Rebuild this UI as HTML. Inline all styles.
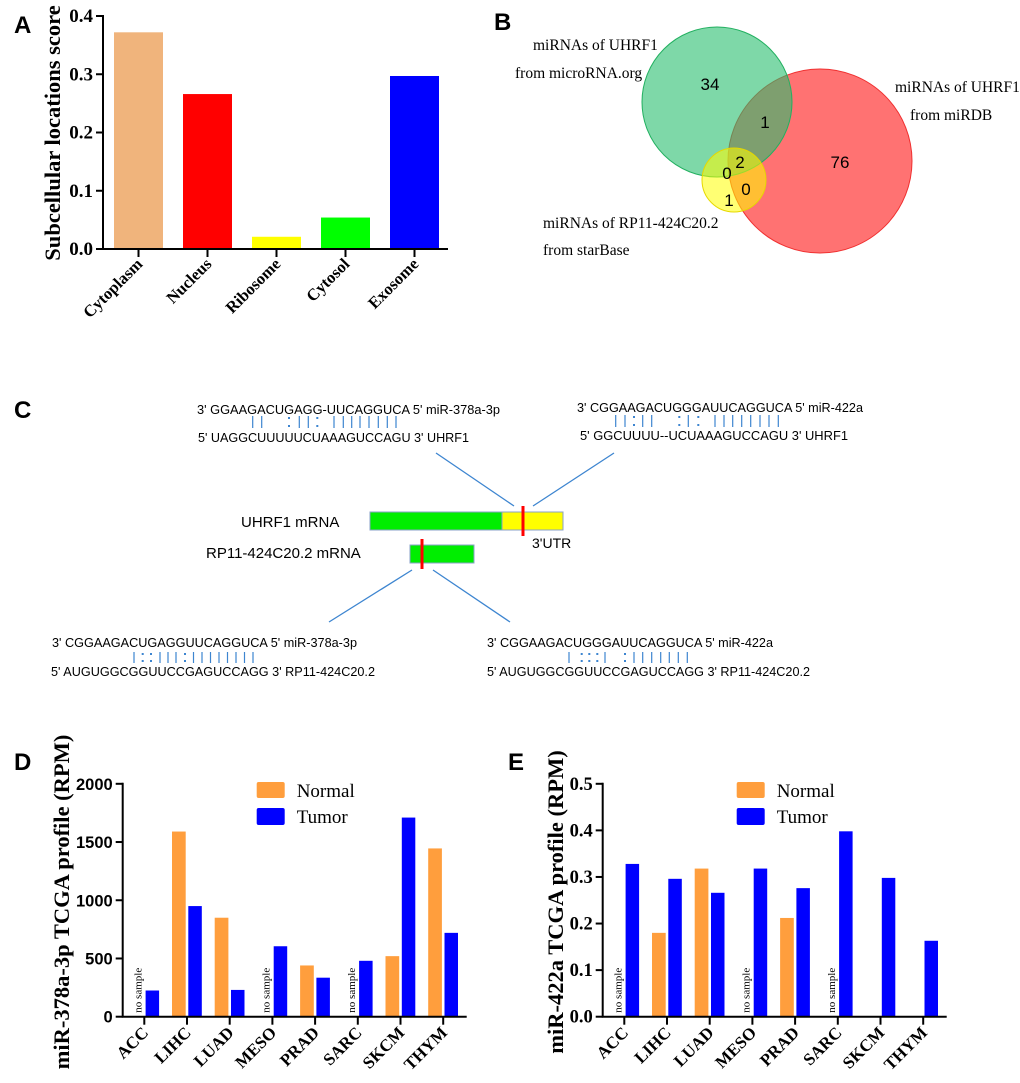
<!DOCTYPE html>
<html><head><meta charset="utf-8"><style>
html,body{margin:0;padding:0;background:#fff;}
svg{display:block;}
.lt{font-family:"Liberation Sans",sans-serif;font-weight:bold;font-size:24px;}
.seq{font-family:"Liberation Sans",sans-serif;font-size:12.5px;fill:#000;}
.ser{font-family:"Liberation Serif",serif;}
</style></head><body>
<svg id="fig" width="1020" height="1083" viewBox="0 0 1020 1083" xmlns="http://www.w3.org/2000/svg">
<text class="lt" x="14" y="33">A</text>
<text class="lt" x="494" y="30">B</text>
<text class="lt" x="14" y="418">C</text>
<text class="lt" x="14" y="770">D</text>
<text class="lt" x="508" y="770">E</text>

<!-- Panel B venn -->
<g>
<circle cx="820" cy="161" r="92" fill="rgba(255,60,60,0.72)" stroke="#f03030" stroke-width="1"/>
<circle cx="717" cy="102" r="75" fill="rgba(40,190,110,0.6)" stroke="#22b060" stroke-width="1"/>
<circle cx="734" cy="180" r="32" fill="rgba(255,255,0,0.55)" stroke="#e6d800" stroke-width="1"/>
<g font-family="'Liberation Sans',sans-serif" font-size="17" fill="#000" text-anchor="middle">
<text x="710" y="90">34</text>
<text x="765" y="128">1</text>
<text x="840" y="168">76</text>
<text x="740" y="168">2</text>
<text x="727" y="179">0</text>
<text x="746" y="195">0</text>
<text x="729" y="206">1</text>
</g>
<g class="ser" font-size="15.5" fill="#000">
<text x="533" y="50">miRNAs of UHRF1</text>
<text x="515" y="78">from microRNA.org</text>
<text x="895" y="92">miRNAs of UHRF1</text>
<text x="910" y="120">from miRDB</text>
<text x="543" y="228">miRNAs of RP11-424C20.2</text>
<text x="543" y="255">from starBase</text>
</g>
</g>

<!-- Panel C -->
<g>
<text class="seq" x="197" y="414" textLength="303" lengthAdjust="spacingAndGlyphs">3' GGAAGACUGAGG-UUCAGGUCA 5' miR-378a-3p</text>
<text class="seq" x="198" y="442" textLength="271" lengthAdjust="spacingAndGlyphs">5' UAGGCUUUUUCUAAAGUCCAGU 3' UHRF1</text>
<text class="seq" x="577" y="412" textLength="286" lengthAdjust="spacingAndGlyphs">3' CGGAAGACUGGGAUUCAGGUCA 5' miR-422a</text>
<text class="seq" x="580" y="440" textLength="268" lengthAdjust="spacingAndGlyphs">5' GGCUUUU--UCUAAAGUCCAGU 3' UHRF1</text>
<text class="seq" x="52" y="647" textLength="305" lengthAdjust="spacingAndGlyphs">3' CGGAAGACUGAGGUUCAGGUCA 5' miR-378a-3p</text>
<text class="seq" x="51" y="676" textLength="324" lengthAdjust="spacingAndGlyphs">5' AUGUGGCGGUUCCGAGUCCAGG 3' RP11-424C20.2</text>
<text class="seq" x="487" y="647" textLength="286" lengthAdjust="spacingAndGlyphs">3' CGGAAGACUGGGAUUCAGGUCA 5' miR-422a</text>
<text class="seq" x="487" y="676" textLength="323" lengthAdjust="spacingAndGlyphs">5' AUGUGGCGGUUCCGAGUCCAGG 3' RP11-424C20.2</text>
<g id="pairs"></g>
<g stroke="#3d85d0" stroke-width="1.3">
<line x1="436" y1="453" x2="514" y2="506"/>
<line x1="614" y1="453" x2="533" y2="506"/>
<line x1="412" y1="570" x2="329" y2="622"/>
<line x1="433" y1="570" x2="510" y2="622"/>
</g>
<text x="241" y="527" font-family="'Liberation Sans',sans-serif" font-size="15">UHRF1 mRNA</text>
<rect x="370" y="512" width="132" height="18" fill="#00ee00" stroke="#8aa0c8" stroke-width="1"/>
<rect x="502" y="512" width="61" height="18" fill="#ffff00" stroke="#8aa0c8" stroke-width="1"/>
<line x1="523" y1="506" x2="523" y2="536" stroke="#ff0000" stroke-width="3"/>
<text x="532" y="548" font-family="'Liberation Sans',sans-serif" font-size="14">3'UTR</text>
<text x="206" y="558" font-family="'Liberation Sans',sans-serif" font-size="15">RP11-424C20.2 mRNA</text>
<rect x="410" y="545" width="64" height="18" fill="#00ee00" stroke="#8aa0c8" stroke-width="1"/>
<line x1="422" y1="539" x2="422" y2="569" stroke="#ff0000" stroke-width="3"/>
</g>

<g id="chartA"></g>
<g id="chartD"></g>
<g id="chartE"></g>
</svg>
<script>
// ---- Panel A data ----
var aCategories = ["Cytoplasm","Nucleus","Ribosome","Cytosol","Exosome"];
var aValues = [0.372, 0.266, 0.021, 0.054, 0.297];
var aColors = ["#f0b47c","#ff0000","#ffff00","#00ff00","#0000ff"];
var aTicks = ["0.0","0.1","0.2","0.3","0.4"];
// ---- Panel D data ----
var cancers = ["ACC","LIHC","LUAD","MESO","PRAD","SARC","SKCM","THYM"];
var dNormal = [null, 1590, 850, null, 440, null, 520, 1445];
var dTumor = [225, 950, 230, 605, 335, 480, 1710, 720];
var dTicks = ["0","500","1000","1500","2000"];
// ---- Panel E data ----
var eNormal = [null, 0.18, 0.318, null, 0.212, null, 0, 0];
var eTumor = [0.328, 0.296, 0.266, 0.318, 0.276, 0.398, 0.298, 0.163];
var eTicks = ["0.0","0.1","0.2","0.3","0.4","0.5"];
var noSample = [true, false, false, true, false, true, false, false];

var NS = "http://www.w3.org/2000/svg";
function mk(parent, tag, attrs, txt) {
  var el = document.createElementNS(NS, tag);
  for (var k in attrs) el.setAttribute(k, attrs[k]);
  if (txt !== undefined) el.textContent = txt;
  parent.appendChild(el);
  return el;
}

// base pair marks (diagram)
var pg = document.getElementById("pairs");
var pairSets = [
  {y1:416,y2:428,xs:[252.7,261.7,289,299.3,308.3,317.3,334,343.3,351.7,360,369,378.3,387.3,396],t:"||:||:||||||||"},
  {y1:415,y2:427,xs:[615.7,625,634,642.7,651.7,679.3,688.3,698.3,715,724,732.7,741.7,750.7,760,769,778.3],t:"||:||:|:||||||||"},
  {y1:652,y2:663,xs:[134,142.7,151,160,168,176,185,193.5,202,210.5,219,227.5,236,244.5,253],t:"|::|||:||||||||"},
  {y1:652,y2:663,xs:[569,581.7,589.3,597.3,605,625,634,642.7,651.7,660.7,669.3,678.3,687.3],t:"|:::|:|||||||"}
];
pairSets.forEach(function(s){
  s.xs.forEach(function(x,i){
    var c = s.t[i];
    if (c === "|") {
      var l = mk(pg,"line",{x1:x,x2:x,y1:s.y1,y2:s.y2,stroke:"#3d85d0","stroke-width":1.2});
      
      
    } else {
      var d1 = mk(pg,"rect",{x:x-1,y:s.y1+1,width:2,height:2,fill:"#3d85d0"});
      
      
      var d2 = mk(pg,"rect",{x:x-1,y:s.y2-3,width:2,height:2,fill:"#3d85d0"});
      
      
    }
  });
});

// ---- Chart A ----
(function(){
  var g = document.getElementById("chartA");
  var x0 = 103, xEnd = 448, y0 = 249, yTop = 16, vmax = 0.4;
  function ys(v){ return y0 - (v/vmax)*(y0-yTop); }
  var step = 69, first = 138.5, bw = 49;
  function xs(i){ return first + i*step; }
  aValues.forEach(function(v,i){
    var r = mk(g,"rect",{x:xs(i)-bw/2,y:ys(v),width:bw,height:y0-ys(v),fill:aColors[i]});
    
    
    var t = mk(g,"line",{x1:xs(i),x2:xs(i),y1:y0,y2:y0+8,stroke:"#000","stroke-width":2});
    
    
    var lb = mk(g,"text",{x:xs(i)+5,y:y0+16,"text-anchor":"end",transform:"rotate(-45 "+(xs(i)+5)+" "+(y0+16)+")","font-family":"'Liberation Serif',serif","font-weight":"bold","font-size":16.5},aCategories[i]);
    
    
  });
  aTicks.forEach(function(s){
    var v = parseFloat(s), y = ys(v);
    var t = mk(g,"line",{x1:x0-7,x2:x0,y1:y,y2:y,stroke:"#000","stroke-width":2});
    
    
    var lb = mk(g,"text",{x:x0-10,y:y+6,"text-anchor":"end","font-family":"'Liberation Serif',serif","font-weight":"bold","font-size":19},s);
    
    
  });
  var ax = mk(g,"path",{d:"M"+x0+" "+(yTop-1)+" V"+y0+" H"+xEnd,fill:"none",stroke:"#000","stroke-width":2});
  
  
  var yt = mk(g,"text",{x:0,y:0,"text-anchor":"middle",transform:"translate(60 133) rotate(-90)","font-family":"'Liberation Serif',serif","font-weight":"bold","font-size":22.5},"Subcellular locations score");
  
  
})();

// ---- Grouped charts D/E ----
function grouped(gid, x0, xEnd, vmax, ticks, normal, tumor, title, titleX, tickSerif){
  var g = document.getElementById(gid);
  var y0 = 1016.7, yTop = 783.8;
  function ys(v){ return y0 - (v/vmax)*(y0-yTop); }
  var first = x0 + 21.6, step = 42.7;
  function xs(i){ return first + i*step; }
  cancers.forEach(function(c,i){
    if (normal[i] !== null && normal[i] > 0) {
      var r = mk(g,"rect",{x:xs(i)-15,y:ys(normal[i]),width:13.7,height:y0-ys(normal[i]),fill:"#ff9e3d"});
      
      
    }
    var b = mk(g,"rect",{x:xs(i)+1.3,y:ys(tumor[i]),width:13.5,height:y0-ys(tumor[i]),fill:"#0000ff"});
    
    
    if (noSample[i]) {
      var ns = mk(g,"text",{x:0,y:0,transform:"translate("+(xs(i)-3)+" "+(y0-4)+") rotate(-90)","font-family":"'Liberation Serif',serif","font-size":11},"no sample");
      
      
    }
    var t = mk(g,"line",{x1:xs(i),x2:xs(i),y1:y0,y2:y0+8,stroke:"#000","stroke-width":2});
    
    
    var lb = mk(g,"text",{x:xs(i)+5,y:y0+17,"text-anchor":"end",transform:"rotate(-45 "+(xs(i)+5)+" "+(y0+17)+")","font-family":"'Liberation Serif',serif","font-weight":"bold","font-size":17},c);
    
    
  });
  ticks.forEach(function(s){
    var v = parseFloat(s), y = ys(v);
    var t = mk(g,"line",{x1:x0-7,x2:x0,y1:y,y2:y,stroke:"#000","stroke-width":2});
    
    
    var lb = mk(g,"text",{x:x0-10,y:y+6,"text-anchor":"end","font-family":tickSerif?"'Liberation Serif',serif":"'Liberation Sans',sans-serif","font-weight":"bold","font-size":tickSerif?18.5:16.5},s);
    
    
  });
  var ax = mk(g,"path",{d:"M"+x0+" "+(yTop-1)+" V"+y0+" H"+xEnd,fill:"none",stroke:"#000","stroke-width":2});
  
  
  var yt = mk(g,"text",{x:0,y:0,"text-anchor":"middle",transform:"translate("+titleX+" 902) rotate(-90)","font-family":"'Liberation Serif',serif","font-weight":"bold","font-size":22.5},title);
  
  
  var lx = x0 + 134;
  var l1 = mk(g,"rect",{x:lx,y:782,width:28,height:16,rx:2,fill:"#ff9e3d"});
  
  
  var l2 = mk(g,"rect",{x:lx,y:808,width:28,height:17,rx:2,fill:"#0000ff"});
  
  
  var t1 = mk(g,"text",{x:lx+40,y:797,"font-family":"'Liberation Serif',serif","font-size":19},"Normal");
  
  
  var t2 = mk(g,"text",{x:lx+40,y:823,"font-family":"'Liberation Serif',serif","font-size":19},"Tumor");
  
  
}
grouped("chartD", 122.7, 466.7, 2000, dTicks, dNormal, dTumor, "miR-378a-3p TCGA profile (RPM)", 69, false);
grouped("chartE", 602.7, 946.7, 0.5, eTicks, eNormal, eTumor, "miR-422a TCGA profile (RPM)", 563, true);
</script>
</body></html>
